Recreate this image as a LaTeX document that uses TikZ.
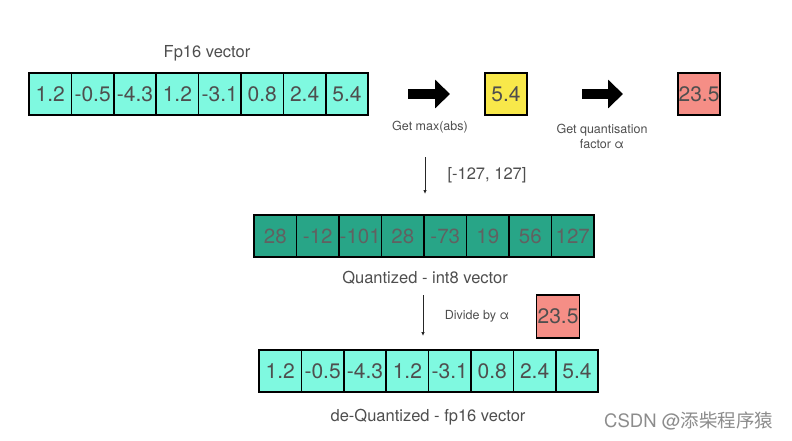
\documentclass[tikz,border=0pt]{standalone}
\usepackage{fontspec}
\setmainfont{TeX Gyre Heros}
\newfontfamily\cjk{Noto Sans CJK SC}
\usepackage{tikz}
\usetikzlibrary{arrows.meta}
\usetikzlibrary{positioning}
\definecolor{aqua}{RGB}{127,249,224}
\definecolor{tealq}{RGB}{40,165,135}
\definecolor{maxyellow}{RGB}{248,232,74}
\definecolor{salmon}{RGB}{245,142,134}
\definecolor{txtgray}{RGB}{78,78,78}
\tikzset{>=latex}
\tikzstyle{cell} = [rectangle, draw=black, line width=1.5pt, minimum width=42.4pt, minimum height=42pt, inner sep=0pt, text=txtgray, font=\fontsize{21}{21}\selectfont]
\tikzstyle{fat} = [-{Triangle[length=15pt,width=28pt]}, line width=10pt, draw=black]
\tikzstyle{downarrow} = [-{Latex[length=4pt,width=3.5pt]}, line width=0.8pt, draw=black!85]
\tikzstyle{caption} = [draw=none, text=txtgray, font=\fontsize{16.5}{16.5}\selectfont]
\tikzstyle{note} = [draw=none, align=center, text=txtgray, font=\fontsize{12.5}{15}\selectfont]

\begin{document}
\begin{tikzpicture}[x=1pt, y=-1pt]
\useasboundingbox (0,0) rectangle (792,440);
% fp16 input vector
\foreach \v [count=\i] in {1.2,-0.5,-4.3,1.2,-3.1,0.8,2.4,5.4}
  \node [cell, fill=aqua] (f\i) at ({29+42.4*(\i-0.5)}, 94) {\v};
\node [caption] (ftitle) at (207, 53) {Fp16 vector};
% max and scale factor
\coordinate (m1) at (408, 94);
\coordinate (m2) at (450, 94);
\draw [fat] (m1) to (m2);
\node [note] (getmax) at (430, 127) {Get max(abs)};
\node [cell, fill=maxyellow, minimum width=42pt] (absmax) at (506, 94) {5.4};
\coordinate (s1) at (582, 94);
\coordinate (s2) at (623, 94);
\draw [fat] (s1) to (s2);
\node [note] (getq) at (602, 136) {Get quantisation\\factor α};
\node [cell, fill=salmon, minimum width=42pt] (alpha) at (699, 94) {23.5};
% quantize
\coordinate (q1) at (425, 157);
\coordinate (q2) at (425, 194);
\draw [downarrow] (q1) to (q2);
\node [caption] (range) at (487, 175) {[-127, 127]};
\foreach \v [count=\i] in {28,-12,-101,28,-73,19,56,127}
  \node [cell, fill=tealq, text=black!62, font=\fontsize{20.5}{20.5}\selectfont, minimum width=42.5pt] (q\i) at ({254+42.5*(\i-0.5)}, 236) {\v};
\node [caption] (qtitle) at (425, 278) {Quantized - int8 vector};
% de-quantize
\coordinate (d1) at (423, 295);
\coordinate (d2) at (423, 336);
\draw [downarrow] (d1) to (d2);
\node [note] (divide) at (477, 316) {Divide by α};
\node [cell, fill=salmon, minimum width=43pt, minimum height=43pt] (alpha2) at (558, 316.5) {23.5};
\foreach \v [count=\i] in {1.2,-0.5,-4.3,1.2,-3.1,0.8,2.4,5.4}
  \node [cell, fill=aqua] (d\i) at ({259+42.4*(\i-0.5)}, 371) {\v};
\node [caption] (dtitle) at (428, 417) {de-Quantized - fp16 vector};
% watermark
\node [draw=none, anchor=west, text=black!45, font=\fontsize{18.5}{18.5}\selectfont, inner sep=0pt] (mark) at (604, 421) {CSDN @{\cjk 添柴程序猿}};
\end{tikzpicture}
\end{document}
